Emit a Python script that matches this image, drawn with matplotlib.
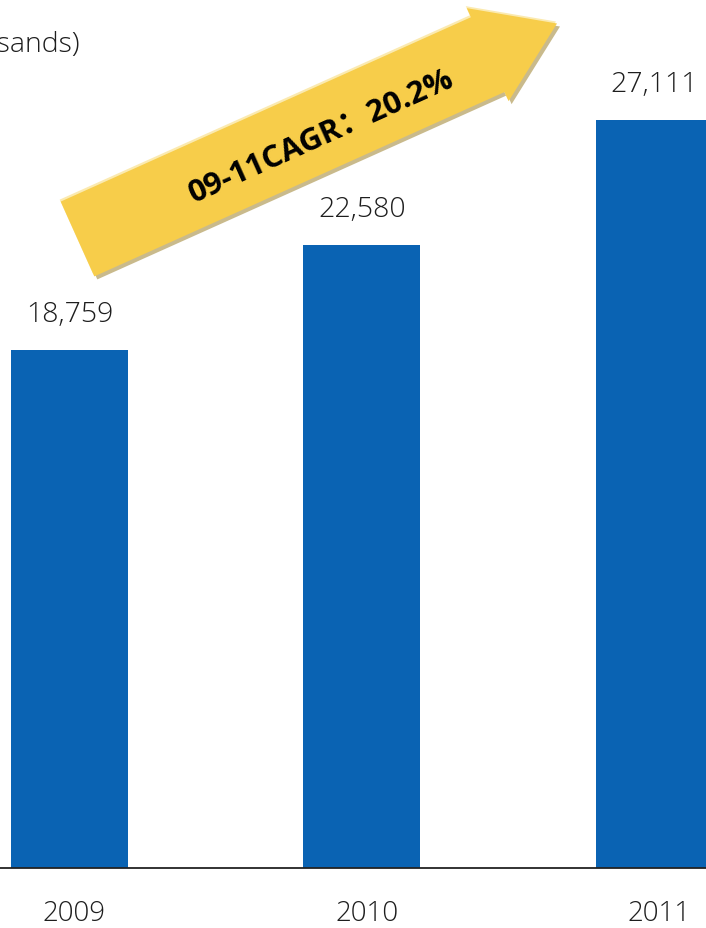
import numpy as np
import matplotlib.pyplot as plt
from matplotlib.patches import Polygon
from matplotlib.transforms import IdentityTransform, ScaledTranslation

years = ["2009", "2010", "2011"]
values = [18759, 22580, 27111]
value_labels = ["18,759", "22,580", "27,111"]
cagr_text = "09-11CAGR：20.2%"
title_text = "Sales volume (thousands)"

W, H = 706, 929
fig = plt.figure(figsize=(W / 100, H / 100), dpi=100)
ax = fig.add_axes([0, 60 / H, 1, 1 - 60 / H])

bar_color = "#0A63B3"
txt_color = "#1E1E1E"
font = "Open Sans"
fw = "light"

x = np.arange(len(years))
ax.bar(x, values, width=0.40, color=bar_color, zorder=2)
for xi, v, lab in zip(x, values, value_labels):
    ax.text(xi, v + 1300, lab, ha="center", va="center", fontsize=20.5,
            color=txt_color, family=font, fontweight=fw)

ax.set_xlim(-0.238, 2.178)
ax.set_ylim(0, 31490)
ax.set_xticks(x)
ax.set_xticklabels(years, fontsize=20, color=txt_color, family=font,
                   fontweight=fw)
ax.tick_params(axis="x", length=0, pad=22)
shift = ScaledTranslation(5 / 100, 0, fig.dpi_scale_trans)
for lab in ax.get_xticklabels():
    lab.set_transform(lab.get_transform() + shift)
ax.set_yticks([])
for s in ["top", "left", "right"]:
    ax.spines[s].set_visible(False)
ax.spines["bottom"].set_color("#222222")
ax.spines["bottom"].set_linewidth(1.3)

# title, cut off at the left edge like the source
fig.text(80 / W, 1 - 45 / H, title_text, ha="right", va="center",
         fontsize=20.5, color=txt_color, family=font, fontweight=fw)

# big yellow arrow, built in pixel space (y measured from top)
tail_mid = np.array([77.5, 240.0])
tip = np.array([557.0, 24.5])
d = tip - tail_mid
length = np.hypot(*d)
u = d / length
n = np.array([-u[1], u[0]])
if n[1] < 0:
    n = -n
half_w = 41
head_len = 76
head_half = 51
base = tail_mid + u * (length - head_len)
pts = np.array([
    tail_mid - n * half_w,
    base - n * half_w,
    base - n * head_half,
    tip,
    base + n * head_half,
    base + n * half_w,
    tail_mid + n * half_w,
])


def to_disp(p, dx=0.0, dy=0.0):
    return np.column_stack([p[:, 0] + dx, H - (p[:, 1] + dy)])


shadow = Polygon(to_disp(pts, 3, 3), closed=True, facecolor="#C9BA8C",
                 edgecolor="none", transform=IdentityTransform(), zorder=3)
hl = Polygon(to_disp(pts, -1, -2), closed=True, facecolor="#FBEAB0",
             edgecolor="none", transform=IdentityTransform(), zorder=3)
arrow = Polygon(to_disp(pts), closed=True, facecolor="#F7CD4A",
                edgecolor="none", transform=IdentityTransform(), zorder=4)
for p in (shadow, hl, arrow):
    fig.add_artist(p)

ang = np.degrees(np.arctan2(-d[1], d[0]))
cx, cy = 322, 137
fig.text(cx / W, 1 - cy / H, cagr_text, rotation=ang, rotation_mode="anchor",
         ha="center", va="center", fontsize=22.5, fontweight="bold",
         color="black", family=["Open Sans", "Noto Sans CJK SC", "DejaVu Sans"],
         zorder=5)

fig.savefig("out.png", dpi=100)
